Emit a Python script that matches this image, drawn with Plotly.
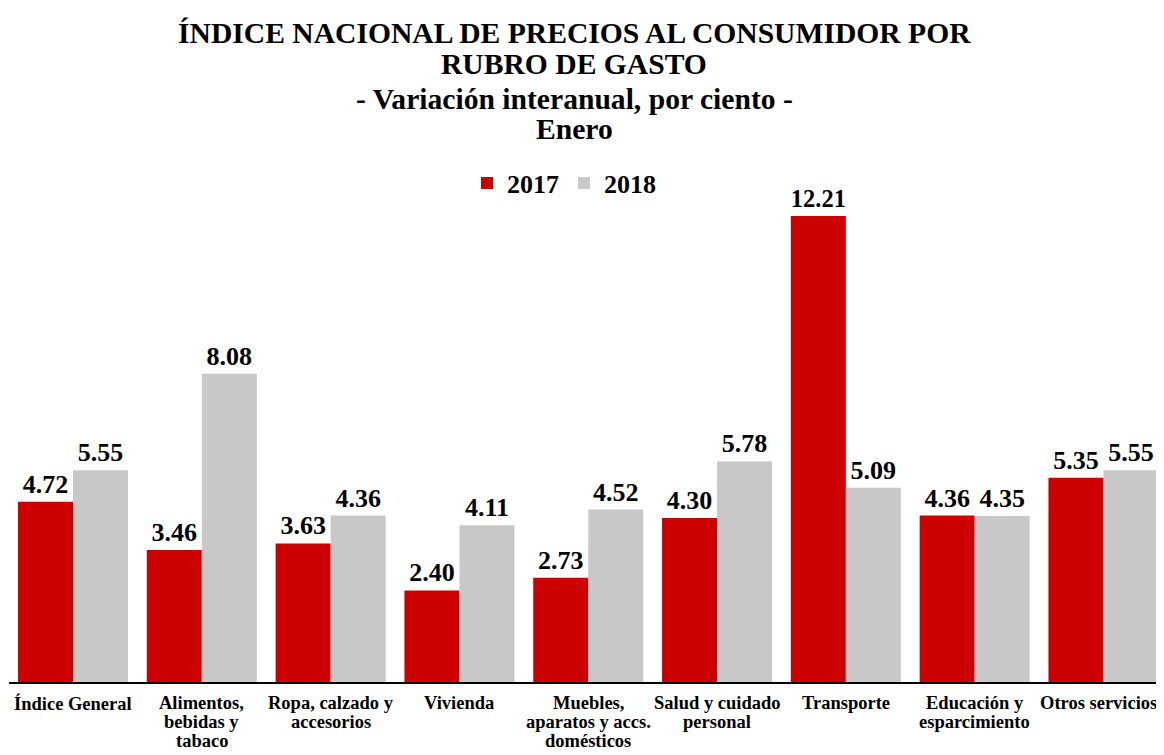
import plotly.graph_objects as go

categories = ["Índice General", "Alimentos,<br>bebidas y<br>tabaco", "Ropa, calzado y<br>accesorios",
              "Vivienda", "Muebles,<br>aparatos y accs.<br>domésticos", "Salud y cuidado<br>personal",
              "Transporte", "Educación y<br>esparcimiento", "Otros servicios"]
v2017 = [4.72, 3.46, 3.63, 2.40, 2.73, 4.30, 12.21, 4.36, 5.35]
v2018 = [5.55, 8.08, 4.36, 4.11, 4.52, 5.78, 5.09, 4.35, 5.55]
series_names = ["2017", "2018"]
colors = ["#CC0000", "#C8C8C8"]

FONT = "Liberation Serif"

# page body has an 8px margin; figure coordinates = screen - 8
W, H = 1156, 747
L, R = 1, 0
BASE = 674          # baseline in figure pixels
TOP = 192           # plot top in figure pixels
H_PLOT = BASE - TOP
W_PLOT = W - L - R

fig = go.Figure()
for name, vals, col in zip(series_names, [v2017, v2018], colors):
    fig.add_trace(go.Bar(
        x=categories, y=vals, name=name, marker_color=col, marker_line_width=0,
        text=[f"{v:.2f}" for v in vals], textposition="outside",
        textfont=dict(family=FONT, size=26, color="black", weight="bold"),
        cliponaxis=False,
    ))

def py(p):
    return (BASE - p) / H_PLOT

def px(p):
    return (p - L) / W_PLOT

titles = [("ÍNDICE NACIONAL DE PRECIOS AL CONSUMIDOR POR", 25),
          ("RUBRO DE GASTO", 56),
          ("- Variación interanual, por ciento -", 91),
          ("Enero", 121)]
ann = []
for t, y in titles:
    ann.append(dict(text=t, x=px(566), y=py(y), xref="paper", yref="paper", xanchor="center",
                    yanchor="middle", showarrow=False,
                    font=dict(family=FONT, size=29.6, color="black", weight="bold")))

# category tick labels, one annotation per line for tight line spacing
for j, cat in enumerate(categories):
    for i, line in enumerate(cat.split("<br>")):
        ann.append(dict(text=line, x=cat, y=py(695 + 19 * i), xref="x", yref="paper",
                        xanchor="center", yanchor="middle", showarrow=False,
                        xshift=-5 if j == len(categories) - 1 else 0,
                        borderpad=0,
                        font=dict(family=FONT, size=18.5, color="black", weight="bold")))

fig.update_layout(
    width=W, height=H,
    margin=dict(l=L, r=R, t=TOP, b=H - BASE, autoexpand=False),
    paper_bgcolor="white", plot_bgcolor="white",
    barmode="group", bargap=0.146, bargroupgap=0,
    annotations=ann,
    showlegend=True,
    legend=dict(orientation="h", x=px(556), y=py(175), xanchor="center", yanchor="middle",
                font=dict(family=FONT, size=26, color="black", weight="bold"),
                itemwidth=30, traceorder="normal"),
    xaxis=dict(showline=True, linecolor="black", linewidth=2, ticks="", showgrid=False,
               showticklabels=False, automargin=False, range=[-0.497, 8.47]),
    yaxis=dict(range=[0, 12.63], visible=False, showgrid=False, zeroline=False, automargin=False),
)

fig.write_html("out.html")
